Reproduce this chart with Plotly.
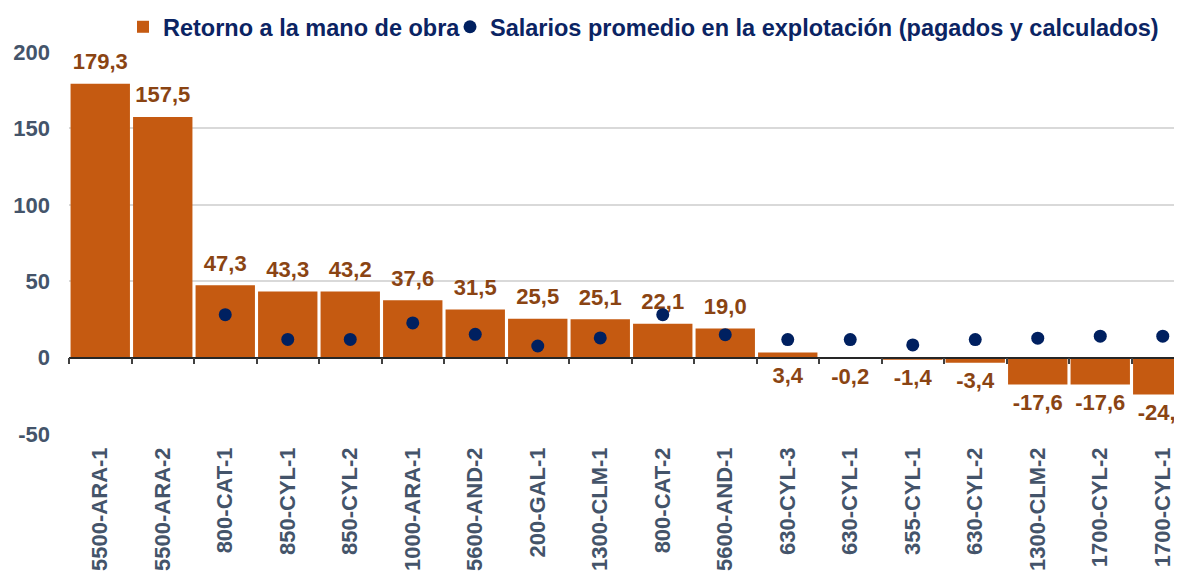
import plotly.graph_objects as go

categories = ["5500-ARA-1", "5500-ARA-2", "800-CAT-1", "850-CYL-1", "850-CYL-2",
              "1000-ARA-1", "5600-AND-2", "200-GAL-1", "1300-CLM-1", "800-CAT-2",
              "5600-AND-1", "630-CYL-3", "630-CYL-1", "355-CYL-1", "630-CYL-2",
              "1300-CLM-2", "1700-CYL-2", "1700-CYL-1"]
retorno = [179.3, 157.5, 47.3, 43.3, 43.2, 37.6, 31.5, 25.5, 25.1, 22.1,
           19.0, 3.4, -0.2, -1.4, -3.4, -17.6, -17.6, -24.1]
salarios = [None, None, 28.1, 11.9, 11.9, 22.7, 15.2, 7.6, 12.9, 28.1,
            15.0, 11.8, 11.8, 8.3, 11.8, 12.7, 14.0, 14.0]
y_tickvals = [-50, 0, 50, 100, 150, 200]
y_ticktext = ["-50", "0", "50", "100", "150", "200"]

name_bar = "Retorno a la mano de obra"
name_dot = "Salarios promedio en la explotación (pagados y calculados)"

BAR = "#C55A11"
LABEL = "#8A4413"
NAVY = "#0B2463"
DOT = "#002060"
TICK = "#44546A"
FONT = "Liberation Sans, Arial, sans-serif"

labels = [f"{v:.1f}".replace(".", ",") for v in retorno]
label_y = [v if v > 5 else min(v, 0) for v in retorno]
label_pos = ["top center" if v > 5 else "bottom center" for v in retorno]

fig = go.Figure()
fig.add_trace(go.Bar(
    x=categories, y=retorno, name=name_bar,
    marker=dict(color=BAR, line=dict(width=0)),
    xaxis="x", yaxis="y", legend="legend",
))
fig.add_trace(go.Scatter(
    x=categories, y=salarios, name=name_dot, mode="markers",
    marker=dict(color=DOT, size=13),
    xaxis="x2", yaxis="y", legend="legend2",
))
fig.add_trace(go.Scatter(
    x=categories, y=label_y, mode="markers+text", text=labels,
    textposition=label_pos, showlegend=False,
    marker=dict(size=13, opacity=0),
    textfont=dict(family=FONT, size=22, color=LABEL, weight="bold"),
    cliponaxis=True, hoverinfo="skip",
    xaxis="x", yaxis="y",
))

xr = [-0.5, 17.436]
legend_font = dict(family=FONT, size=23.5, color=NAVY, weight="bold")
leg_y = 1 - 19 / 579
fig.update_layout(
    width=1182, height=579,
    margin=dict(l=61, r=0, t=44, b=153, autoexpand=False),
    plot_bgcolor="white", paper_bgcolor="white",
    bargap=0.05,
    font=dict(family=FONT),
    xaxis=dict(
        type="category", categoryorder="array", categoryarray=categories,
        range=xr, tickangle=-90, showgrid=False, showline=False, ticks="",
        zeroline=False, ticklabelstandoff=8, automargin=False,
        tickfont=dict(family=FONT, size=22, color=TICK, weight="bold"),
    ),
    xaxis2=dict(
        type="category", categoryorder="array", categoryarray=categories,
        range=xr, overlaying="x", anchor="free", position=0.2,
        showline=True, linecolor="#262626", linewidth=1.5,
        ticks="outside", ticklen=6, tickwidth=1.5, tickcolor="#404040",
        tickson="boundaries", showticklabels=False, showgrid=False, zeroline=False,
    ),
    yaxis=dict(
        range=[-50, 200], tickvals=y_tickvals, ticktext=y_ticktext,
        showgrid=True, gridcolor="#D9D9D9", gridwidth=1.5, zeroline=False,
        showline=False, ticks="", ticklabelstandoff=18, automargin=False,
        tickfont=dict(family=FONT, size=22, color=TICK, weight="bold"),
    ),
    legend=dict(
        orientation="h", xref="container", yref="container",
        x=115 / 1182, y=leg_y, xanchor="left", yanchor="middle",
        font=legend_font, bgcolor="rgba(0,0,0,0)", itemwidth=30,
    ),
    legend2=dict(
        orientation="h", xref="container", yref="container",
        x=442 / 1182, y=leg_y, xanchor="left", yanchor="middle",
        font=legend_font, bgcolor="rgba(0,0,0,0)", itemwidth=30,
    ),
    showlegend=True,
)

fig.write_html("out.html")
